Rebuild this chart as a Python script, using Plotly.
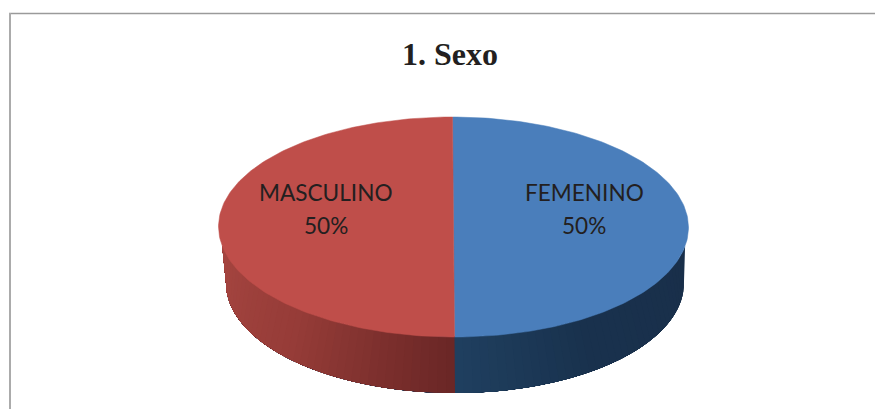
import numpy as np
import plotly.graph_objects as go

categories = ['FEMENINO', 'MASCULINO']
values = [50, 50]
title_text = '1. Sexo'

TOP_COLORS = {'FEMENINO': '#4A7EBB', 'MASCULINO': '#BF4E4A'}
# side shading, (position along the front edge 0..1, colour)
SIDE_STOPS = [(0.0, (166, 70, 65)), (0.25, (150, 60, 56)), (0.5, (106, 39, 38)),
              (0.5001, (32, 64, 96)), (0.7, (25, 50, 78)), (1.0, (25, 47, 74))]
TEXT_COLOR = '#231F20'

W, H = 875, 409
TOP = dict(cx=453.5, cy=227, rx=235, ry=110, skew=1)
BOT = dict(cx=455, cy=283, rx=229, ry=110, skew=0)
LABEL_Y = (192, 225)
LABEL_X = {'FEMENINO': 584, 'MASCULINO': 325.5}


def ellipse(theta, e):
    # theta runs clockwise from 12 o'clock
    x = e['cx'] + e['rx'] * np.sin(theta) - e['skew'] * np.cos(theta)
    y = e['cy'] - e['ry'] * np.cos(theta)
    return x, y


def side_color(u):
    pos = [s[0] for s in SIDE_STOPS]
    rgb = [np.interp(u, pos, [s[1][i] for s in SIDE_STOPS]) for i in range(3)]
    return 'rgb(%d,%d,%d)' % tuple(rgb)


fig = go.Figure()

# side wall, each strip runs to the far end and the next one paints over it, so no seams
edges = np.linspace(0, 1, 81)
a0 = np.radians(10)
for u0, u1 in zip(edges[:-1], edges[1:]):
    # u=0 at the right end of the wall, u=1 at the left end
    uu = np.linspace(u0, 1, 80)
    tx, ty = ellipse(np.pi / 2 + a0 + (np.pi - 2 * a0) * uu, TOP)
    bx, by = ellipse(np.pi / 2 + np.pi * uu, BOT)
    c = side_color(1 - (u0 + u1) / 2)
    fig.add_trace(go.Scatter(x=np.r_[tx, bx[::-1], tx[0]], y=np.r_[ty, by[::-1], ty[0]], mode='lines', fill='toself',
                             fillcolor=c, line=dict(color=c, width=0), hoverinfo='skip', showlegend=False))

# top face, angles come from the values
total = sum(values)
start = 0.0
for cat, v in zip(categories, values):
    end = start + 2 * np.pi * v / total
    th = np.linspace(start, end, 181)
    x, y = ellipse(th, TOP)
    cx0, cy0 = TOP['cx'], TOP['cy']
    fig.add_trace(go.Scatter(x=np.r_[cx0, x, cx0], y=np.r_[cy0, y, cy0], mode='lines', fill='toself',
                             fillcolor=TOP_COLORS[cat], line=dict(color=TOP_COLORS[cat], width=0.5),
                             name=cat, hoverinfo='name', showlegend=False))
    for txt, ly in zip((cat, '%d%%' % round(100 * v / total)), LABEL_Y):
        fig.add_annotation(x=LABEL_X[cat], y=ly, text=txt, showarrow=False, xanchor='center', yanchor='middle',
                           font=dict(family='Lato, sans-serif', size=22.6, color=TEXT_COLOR))
    start = end

fig.add_annotation(x=450, y=54, text='<b>' + title_text + '</b>', showarrow=False, xanchor='center', yanchor='middle',
                   font=dict(family='Liberation Serif, serif', size=32, color=TEXT_COLOR))

# frame around the chart, only top and left are in view
fig.add_shape(type='line', x0=9, x1=W, y0=13.5, y1=13.5, line=dict(color='#9A9A9A', width=1.5))
fig.add_shape(type='line', x0=10, x1=10, y0=13, y1=H, line=dict(color='#ABABAB', width=2))

fig.update_xaxes(range=[0, W], visible=False, fixedrange=True)
fig.update_yaxes(range=[H, 0], visible=False, fixedrange=True)
fig.update_layout(width=W, height=H, margin=dict(l=0, r=0, t=0, b=0), plot_bgcolor='white', paper_bgcolor='white',
                  showlegend=False)
# default page margin would push the figure 8px in
fig.write_html("out.html", config={'displayModeBar': False},
               post_script="document.body.style.margin='0';document.documentElement.style.overflow='hidden';")
